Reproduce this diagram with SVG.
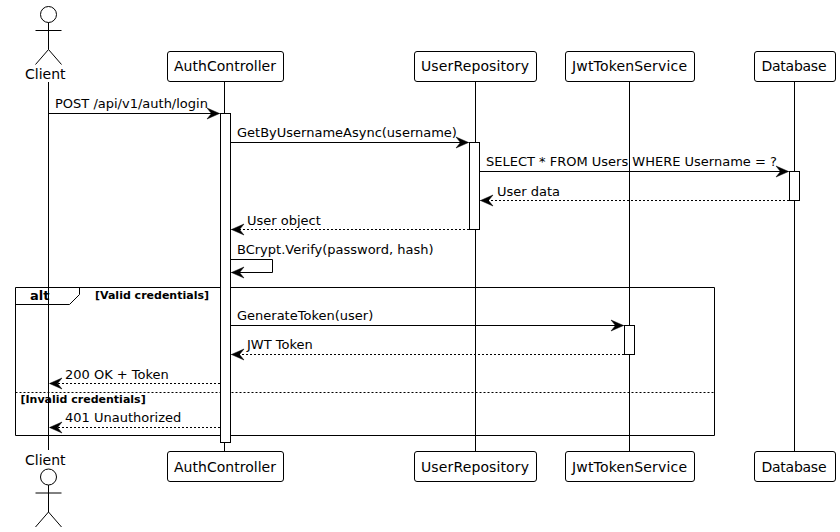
<svg xmlns="http://www.w3.org/2000/svg" width="840" height="532" viewBox="0 0 840 532">
<style>
text{font-family:"DejaVu Sans",sans-serif;font-size:13px;fill:#000}
.t{font-size:14px}
.b{font-size:11px;font-weight:bold}
.alt{font-size:13px;font-weight:bold}
.l{stroke:#000;stroke-width:1;fill:none}
.box{fill:#fff;stroke:#000;stroke-width:1}
.act{fill:#fff;stroke:#000;stroke-width:1}
.s{stroke:#000;stroke-width:1;fill:none}
.d{stroke:#000;stroke-width:1;fill:none;stroke-dasharray:2 2}
</style>
<defs>
<marker id="fa" markerUnits="userSpaceOnUse" markerWidth="16" markerHeight="14" refX="13" refY="6" orient="auto" overflow="visible"><path d="M0.500 0.500L13 6L0.500 11.500L5 6Z" fill="#000" stroke="#000" stroke-width="0.500"/></marker>
<symbol id="actor" overflow="visible"><circle cx="0" cy="0" r="8" class="box"/><path class="l" d="M0 8V35M-13 16H13M0 35L-13 50M0 35L13 50"/></symbol>
</defs>
<g id="lifelines">
<path class="l" d="M48.500 82V450M224.500 82V451M475.500 82V451M629.500 82V451M794.500 82V451"/>
</g>
<g id="frame">
<path class="l" d="M15.500 287.500H714.500V435.500H15.500Z"/>
<path class="l" d="M15.500 304.500H69.500L79.500 294.500V287.500"/>
<path class="l" style="stroke-dasharray:2 2" d="M15.500 392.500H714.500"/>
<text class="alt" x="30" y="300">alt</text>
<text class="b" x="95" y="299">[Valid credentials]</text>
<text class="b" x="20.500" y="403">[Invalid credentials]</text>
</g>
<g id="activations">
<rect class="act" x="220.500" y="113.500" width="10" height="329"/>
<rect class="act" x="469.500" y="142.500" width="10" height="87"/>
<rect class="act" x="789.500" y="171.500" width="10" height="29"/>
<rect class="act" x="624.500" y="325.500" width="10" height="29"/>
</g>
<g id="connectors">
<path class="s" marker-end="url(#fa)" d="M49 113.500H219.500"/>
<path class="s" marker-end="url(#fa)" d="M231 142.500H468.500"/>
<path class="s" marker-end="url(#fa)" d="M480 171.500H788.500"/>
<path class="d" marker-end="url(#fa)" d="M789 200.500H480.500"/>
<path class="d" marker-end="url(#fa)" d="M469 229.500H231.500"/>
<path class="s" marker-end="url(#fa)" d="M231 259.500H272.500V272.500H231.500"/>
<path class="s" marker-end="url(#fa)" d="M231 325.500H623.500"/>
<path class="d" marker-end="url(#fa)" d="M624 354.500H231.500"/>
<path class="d" marker-end="url(#fa)" d="M220 383.500H49.500"/>
<path class="d" marker-end="url(#fa)" d="M220 427.500H49.500"/>
<text x="55" y="108">POST /api/v1/auth/login</text>
<text x="237" y="137">GetByUsernameAsync(username)</text>
<text x="486" y="166">SELECT * FROM Users WHERE Username = ?</text>
<text x="497" y="196">User data</text>
<text x="247" y="225">User object</text>
<text x="237" y="254">BCrypt.Verify(password, hash)</text>
<text x="237" y="320">GenerateToken(user)</text>
<text x="247" y="349">JWT Token</text>
<text x="65" y="379">200 OK + Token</text>
<text x="65" y="422">401 Unauthorized</text>
</g>
<g id="Client"><use href="#actor" x="48.500" y="14.500"/><text class="t" x="25" y="79">Client</text><text class="t" x="25" y="465">Client</text><use href="#actor" x="48.500" y="477"/></g>
<g id="AuthController"><rect class="box" x="167.500" y="51.500" width="116" height="30" rx="2.500"/><text class="t" x="174" y="71" textLength="102">AuthController</text><rect class="box" x="167.500" y="451.500" width="116" height="30" rx="2.500"/><text class="t" x="174" y="472" textLength="102">AuthController</text></g>
<g id="UserRepository"><rect class="box" x="414.500" y="51.500" width="122" height="30" rx="2.500"/><text class="t" x="421" y="71" textLength="108">UserRepository</text><rect class="box" x="414.500" y="451.500" width="122" height="30" rx="2.500"/><text class="t" x="421" y="472" textLength="108">UserRepository</text></g>
<g id="JwtTokenService"><rect class="box" x="565.500" y="51.500" width="129" height="30" rx="2.500"/><text class="t" x="572" y="71" textLength="115">JwtTokenService</text><rect class="box" x="565.500" y="451.500" width="129" height="30" rx="2.500"/><text class="t" x="572" y="472" textLength="115">JwtTokenService</text></g>
<g id="Database"><rect class="box" x="754.500" y="51.500" width="81" height="30" rx="2.500"/><text class="t" x="761.500" y="71" textLength="65">Database</text><rect class="box" x="754.500" y="451.500" width="81" height="30" rx="2.500"/><text class="t" x="761.500" y="472" textLength="65">Database</text></g>
</svg>
